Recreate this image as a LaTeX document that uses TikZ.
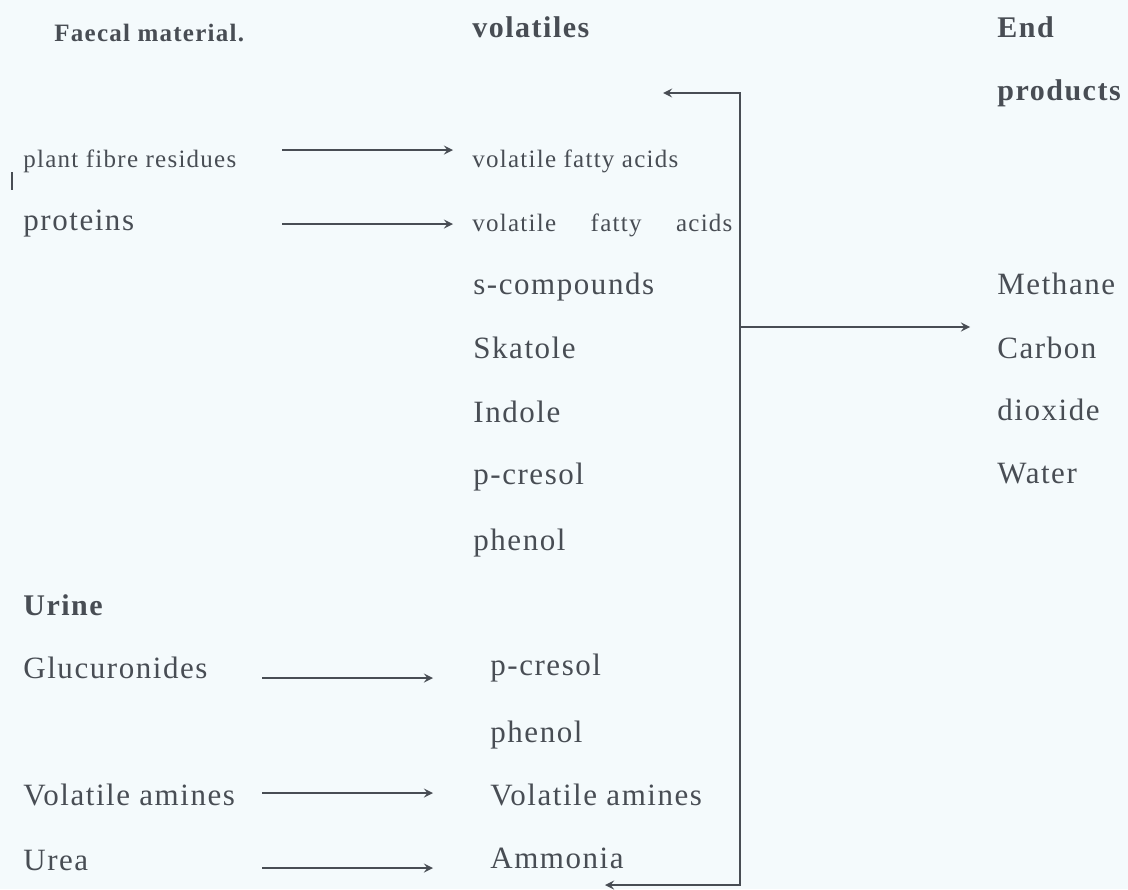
\documentclass[tikz,border=0pt]{standalone}
\usepackage{fontspec}
\setmainfont{Liberation Serif}[LetterSpace=5]
\usepackage{tikz}

\definecolor{ink}{RGB}{72,77,84}
\definecolor{paper}{RGB}{244,250,252}
\newcommand{\bigsz}{\fontsize{15.5pt}{18pt}\selectfont}
\newcommand{\headsz}{\fontsize{15pt}{18pt}\selectfont}
\newcommand{\smallsz}{\fontsize{12.5pt}{15pt}\selectfont}

\begin{document}
\begin{tikzpicture}[x=0.5pt, y=-0.5pt, >=stealth]
    \tikzstyle{item} = [anchor=base west, inner sep=0pt, text=ink, font=\bigsz]
    \tikzstyle{small} = [item, font=\smallsz]
    \tikzstyle{head} = [item, font=\headsz\bfseries]
    \tikzstyle{link} = [draw=ink]

    \fill[paper] (0,0) rectangle (1128,889);
    \useasboundingbox (0,0) rectangle (1128,889);

    % column heads
    \path
        node[head, font=\smallsz\bfseries] (faecal) at (54,41) {Faecal material.}
        node[head] (vol) at (472,37) {volatiles}
        node[head] (endp) at (997,37) {End}
        node[head] (prod) at (997,100) {products}
        node[head] (urine) at (23,615) {Urine}
    ;
    % faecal sources and their volatiles
    \path
        node[small] (fibre) at (23,167) {plant fibre residues}
        node[item] (prot) at (23,230) {proteins}
        node[small] (vfa) at (472,167) {volatile fatty acids}
        node[small] (vfb) at (472,231) {\makebox[130pt][s]{volatile fatty acids}}
        node[item] (scomp) at (473,294) {s-compounds}
        node[item] (skat) at (473,358) {Skatole}
        node[item] (indo) at (473,422) {Indole}
        node[item] (pcr) at (473,484) {p-cresol}
        node[item] (phe) at (473,550) {phenol}
    ;
    % urine sources and their volatiles
    \path
        node[item] (gluc) at (23,678) {Glucuronides}
        node[item] (amin) at (23,805) {Volatile amines}
        node[item] (urea) at (23,870) {Urea}
        node[item] (pcrb) at (490,675) {p-cresol}
        node[item] (pheb) at (490,742) {phenol}
        node[item] (aminb) at (490,805) {Volatile amines}
        node[item] (ammo) at (490,868) {Ammonia}
    ;
    % end products
    \path
        node[item] (meth) at (997,294) {Methane}
        node[item] (carb) at (997,358) {Carbon}
        node[item] (diox) at (997,420) {dioxide}
        node[item] (wat) at (997,483) {Water}
    ;

    % arrow ends
    \coordinate (fibreR) at (282,150);
    \coordinate (vfaL) at (453,150);
    \coordinate (protR) at (282,224);
    \coordinate (vfbL) at (453,224);
    \coordinate (glucR) at (262,678);
    \coordinate (pcrbL) at (433,678);
    \coordinate (aminR) at (262,793);
    \coordinate (aminbL) at (433,793);
    \coordinate (ureaR) at (262,868);
    \coordinate (ammoL) at (433,868);
    \coordinate (topL) at (663,93);
    \coordinate (topR) at (740,93);
    \coordinate (botR) at (740,885);
    \coordinate (botL) at (605,885);
    \coordinate (midR) at (740,327);
    \coordinate (endL) at (970,327);

    \path[->, line width=1pt]
        (fibreR) edge[link] (vfaL)
        (protR) edge[link] (vfbL)
        (glucR) edge[link] (pcrbL)
        (aminR) edge[link] (aminbL)
        (ureaR) edge[link] (ammoL)
        (midR) edge[link] (endL)
    ;
    \draw[<->, draw=ink, line width=1pt] (topL) -- (topR) -- (botR) -- (botL);

    % stray mark
    \draw[ink, line width=1pt] (12,172) -- (12,190);
\end{tikzpicture}
\end{document}
